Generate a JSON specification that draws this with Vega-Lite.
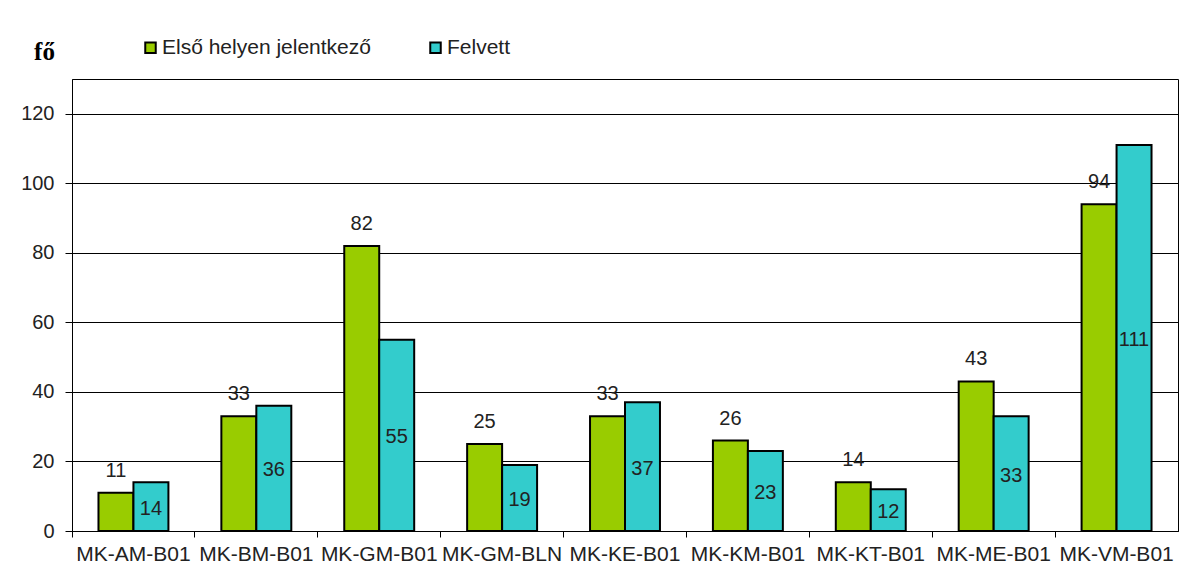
{
  "$schema": "https://vega.github.io/schema/vega-lite/v6.json",
  "width": 1106,
  "height": 452,
  "autosize": {"type": "none"},
  "padding": {"left": 72, "top": 79, "right": 9, "bottom": 48},
  "background": "white",
  "config": {
    "view": {"stroke": "black", "strokeWidth": 1},
    "font": "Liberation Sans"
  },
  "data": {
    "values": [
      {"program": "MK-AM-B01", "series": "Első helyen jelentkező", "value": 11},
      {"program": "MK-AM-B01", "series": "Felvett", "value": 14},
      {"program": "MK-BM-B01", "series": "Első helyen jelentkező", "value": 33},
      {"program": "MK-BM-B01", "series": "Felvett", "value": 36},
      {"program": "MK-GM-B01", "series": "Első helyen jelentkező", "value": 82},
      {"program": "MK-GM-B01", "series": "Felvett", "value": 55},
      {"program": "MK-GM-BLN", "series": "Első helyen jelentkező", "value": 25},
      {"program": "MK-GM-BLN", "series": "Felvett", "value": 19},
      {"program": "MK-KE-B01", "series": "Első helyen jelentkező", "value": 33},
      {"program": "MK-KE-B01", "series": "Felvett", "value": 37},
      {"program": "MK-KM-B01", "series": "Első helyen jelentkező", "value": 26},
      {"program": "MK-KM-B01", "series": "Felvett", "value": 23},
      {"program": "MK-KT-B01", "series": "Első helyen jelentkező", "value": 14},
      {"program": "MK-KT-B01", "series": "Felvett", "value": 12},
      {"program": "MK-ME-B01", "series": "Első helyen jelentkező", "value": 43},
      {"program": "MK-ME-B01", "series": "Felvett", "value": 33},
      {"program": "MK-VM-B01", "series": "Első helyen jelentkező", "value": 94},
      {"program": "MK-VM-B01", "series": "Felvett", "value": 111}
    ]
  },
  "encoding": {
    "x": {
      "field": "program",
      "type": "nominal",
      "sort": null,
      "scale": {"paddingInner": 0, "paddingOuter": 0},
      "axis": {
        "title": null,
        "labelAngle": 0,
        "labelFontSize": 21,
        "labelColor": "#222",
        "labelPadding": 6,
        "tickColor": "black",
        "tickSize": 6,
        "bandPosition": 0,
        "domainColor": "black",
        "grid": false
      }
    },
    "xOffset": {
      "field": "series",
      "type": "nominal",
      "sort": ["Első helyen jelentkező", "Felvett"],
      "scale": {"paddingInner": 0, "paddingOuter": 0.757}
    },
    "y": {
      "field": "value",
      "type": "quantitative",
      "scale": {"domain": [0, 130], "nice": false},
      "axis": {
        "values": [0, 20, 40, 60, 80, 100, 120],
        "title": "fő",
        "titleAngle": 0,
        "titleFont": "Liberation Serif",
        "titleFontWeight": "bold",
        "titleFontSize": 25,
        "titleColor": "black",
        "titleAlign": "center",
        "titleBaseline": "alphabetic",
        "titleX": -28,
        "titleY": -20,
        "labelFontSize": 20,
        "labelColor": "#222",
        "labelPadding": 11,
        "tickSize": 7,
        "tickColor": "black",
        "domainColor": "black",
        "gridColor": "black",
        "gridOpacity": 1,
        "gridWidth": 1
      }
    }
  },
  "layer": [
    {
      "mark": {"type": "bar", "stroke": "black", "strokeWidth": 2},
      "encoding": {
        "color": {
          "field": "series",
          "type": "nominal",
          "sort": ["Első helyen jelentkező", "Felvett"],
          "scale": {"domain": ["Első helyen jelentkező", "Felvett"], "range": ["#99cc00", "#33cccc"]},
          "legend": {
            "title": null,
            "orient": "none",
            "direction": "horizontal",
            "legendX": 68,
            "legendY": -42,
            "symbolType": "square",
            "symbolSize": 110,
            "symbolStrokeColor": "black",
            "symbolStrokeWidth": 2,
            "symbolOpacity": 1,
            "labelFontSize": 21,
            "labelColor": "#222",
            "labelOffset": 1,
            "labelLimit": 0,
            "columnPadding": 54,
            "padding": 0
          }
        }
      }
    },
    {
      "transform": [{"filter": "datum.series === 'Első helyen jelentkező'"}],
      "mark": {"type": "text", "baseline": "alphabetic", "dy": -16, "fontSize": 20, "color": "#222"},
      "encoding": {"text": {"field": "value", "type": "quantitative"}}
    },
    {
      "transform": [
        {"filter": "datum.series === 'Felvett'"},
        {"calculate": "datum.value / 2", "as": "label_pos"}
      ],
      "mark": {"type": "text", "baseline": "middle", "dy": 2, "fontSize": 20, "color": "#222"},
      "encoding": {
        "y": {"field": "label_pos", "type": "quantitative"},
        "text": {"field": "value", "type": "quantitative"}
      }
    }
  ]
}
